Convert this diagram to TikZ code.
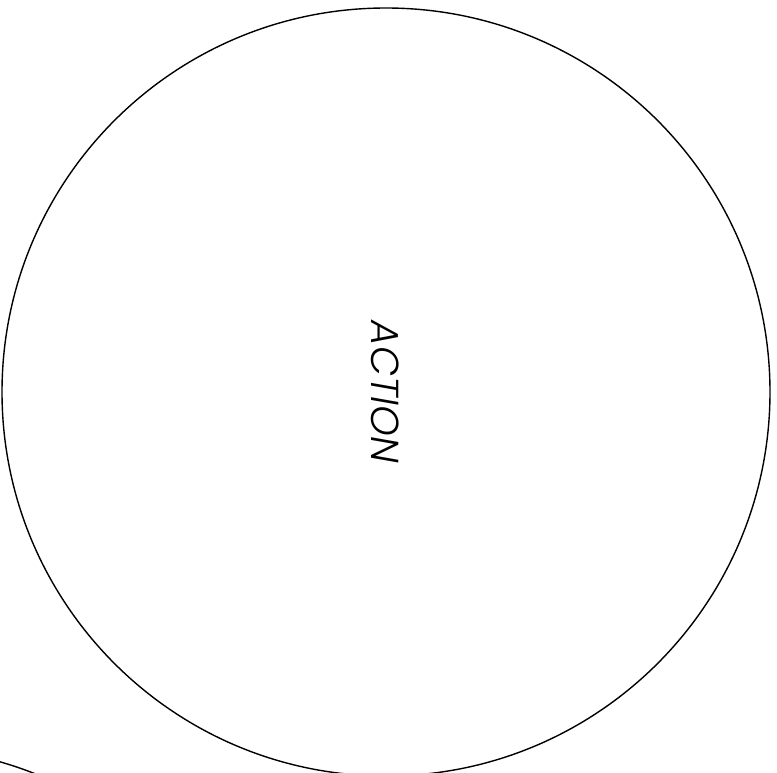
\documentclass[tikz,border=0pt]{standalone}
\usepackage{fontspec}
\setmainfont{Poppins}
\usetikzlibrary{positioning}
\newfontfamily\thinfont{Poppins}[UprightFont=* Light, ItalicFont=* Light Italic]
\tikzset{
  every picture/.style={line width=1.4pt},
  ring/.style={draw=black, circle, minimum size=768pt, inner sep=0pt},
  label/.style={font=\thinfont\itshape\fontsize{39}{42}\selectfont, rotate=-90},
}
\begin{document}
\begin{tikzpicture}[x=1pt, y=-1pt]
  \useasboundingbox (0,0) rectangle (777,773);
  \clip (0,0) rectangle (777,773);
  \node[ring] (action) at (386,392) {};
  \node[ring] (other) at (-106,1131) {};
  \node[label] (word) at (385,392) {ACTION};
\end{tikzpicture}
\end{document}
